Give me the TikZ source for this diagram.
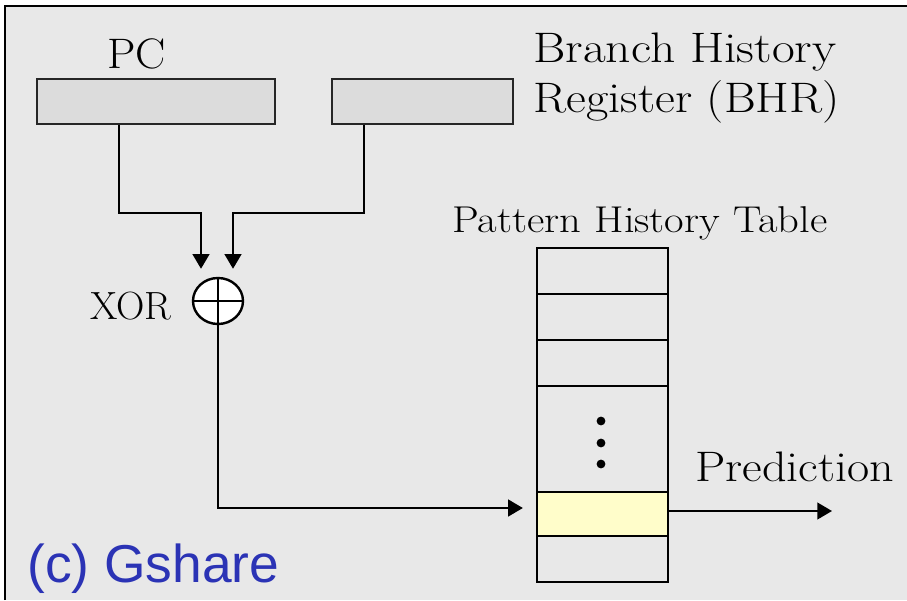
\documentclass[tikz,border=0pt]{standalone}
\usepackage{fontspec}
\usepackage{graphicx}
\newfontfamily\labelsans{Liberation Sans}
\usetikzlibrary{arrows.meta,shapes.geometric}
\definecolor{panelgray}{HTML}{E8E8E8}
\definecolor{regfill}{HTML}{DCDCDC}
\definecolor{hitfill}{HTML}{FFFDCA}
\definecolor{captionblue}{HTML}{2B33B5}
% serif label of a given size, widened by a given factor
\newcommand{\widelabel}[3]{{\fontsize{#1}{#1}\selectfont\scalebox{#2}[1]{#3}}}
\tikzset{
  regbox/.style={draw=black!85, line width=1.4pt, fill=regfill, inner sep=0pt},
  cell/.style={draw=black, line width=1.7pt, fill=panelgray, inner sep=0pt,
               minimum width=98.25pt},
  wire/.style={line width=1.6pt},
  arr/.style={wire, -{Triangle[length=11pt, width=12.5pt]}},
  lbl/.style={inner sep=0pt, anchor=base west},
}
\begin{document}
\begin{tikzpicture}[x=0.75pt, y=-0.75pt]
\useasboundingbox (0,0) rectangle (907,600);
% panel background and frame
\fill[panelgray] (5,6) rectangle (907,600);
\draw[line width=1.8pt] (5,600) -- (5,6) -- (907,6);

% registers
\node[regbox, minimum width=178.5pt, minimum height=33.75pt] (pc) at (156,101.5) {};
\node[regbox, minimum width=135.75pt, minimum height=33.75pt] (bhr) at (422.5,101.5) {};
\node[lbl] (pclabel) at (107,68) {\widelabel{32}{1.06}{PC}};
\node[lbl] (bhrlabel1) at (533,62) {\widelabel{32}{1.16}{Branch History}};
\node[lbl] (bhrlabel2) at (533,112) {\widelabel{32}{1.14}{Register (BHR)}};

% xor gate
\node[ellipse, draw, line width=1.8pt, fill=white, minimum width=37.5pt,
      minimum height=34.5pt, inner sep=0pt] (xor) at (218,301) {};
\draw[line width=1.5pt] (xor.north) -- (xor.south) (xor.west) -- (xor.east);
\node[lbl] (xorlabel) at (90,319) {\widelabel{29.5}{1.0}{XOR}};

% inputs into the xor
\draw[arr, shorten >=6pt] ([xshift=-27.75pt]pc.south) -- ++(0,88) -| ([xshift=-12.75pt]xor.north);
\draw[arr, shorten >=6pt] ([xshift=-43.875pt]bhr.south) -- ++(0,88) -| ([xshift=11.25pt]xor.north);

% pattern history table
\node[lbl] (phtlabel) at (452,232) {\widelabel{28}{1.14}{Pattern History Table}};
\node[cell, minimum height=34.5pt] (r1) at (602.5,271) {};
\node[cell, minimum height=34.5pt] (r2) at (602.5,317) {};
\node[cell, minimum height=34.5pt] (r3) at (602.5,363) {};
\node[cell, minimum height=79.5pt] (gap) at (602.5,439) {};
\node[cell, minimum height=33pt, fill=hitfill] (hit) at (602.5,514) {};
\node[cell, minimum height=34.5pt] (r6) at (602.5,559) {};
\fill (601,421) circle (3.3pt) (601,443) circle (3.3pt) (601,464) circle (3.3pt);

% index into the table and prediction out
\draw[arr, shorten >=9.75pt] (xor.south) |- ([yshift=4.5pt]hit.west);
\coordinate (predend) at (832,511);
\draw[arr] ([yshift=2.25pt]hit.east) -- (predend);
\node[lbl] (predlabel) at (695,481) {\widelabel{32}{1.13}{Prediction}};

% caption
\node[lbl, font=\labelsans\fontsize{40}{48}\selectfont, text=captionblue] (caption) at (27,582) {(c) Gshare};
\end{tikzpicture}
\end{document}
